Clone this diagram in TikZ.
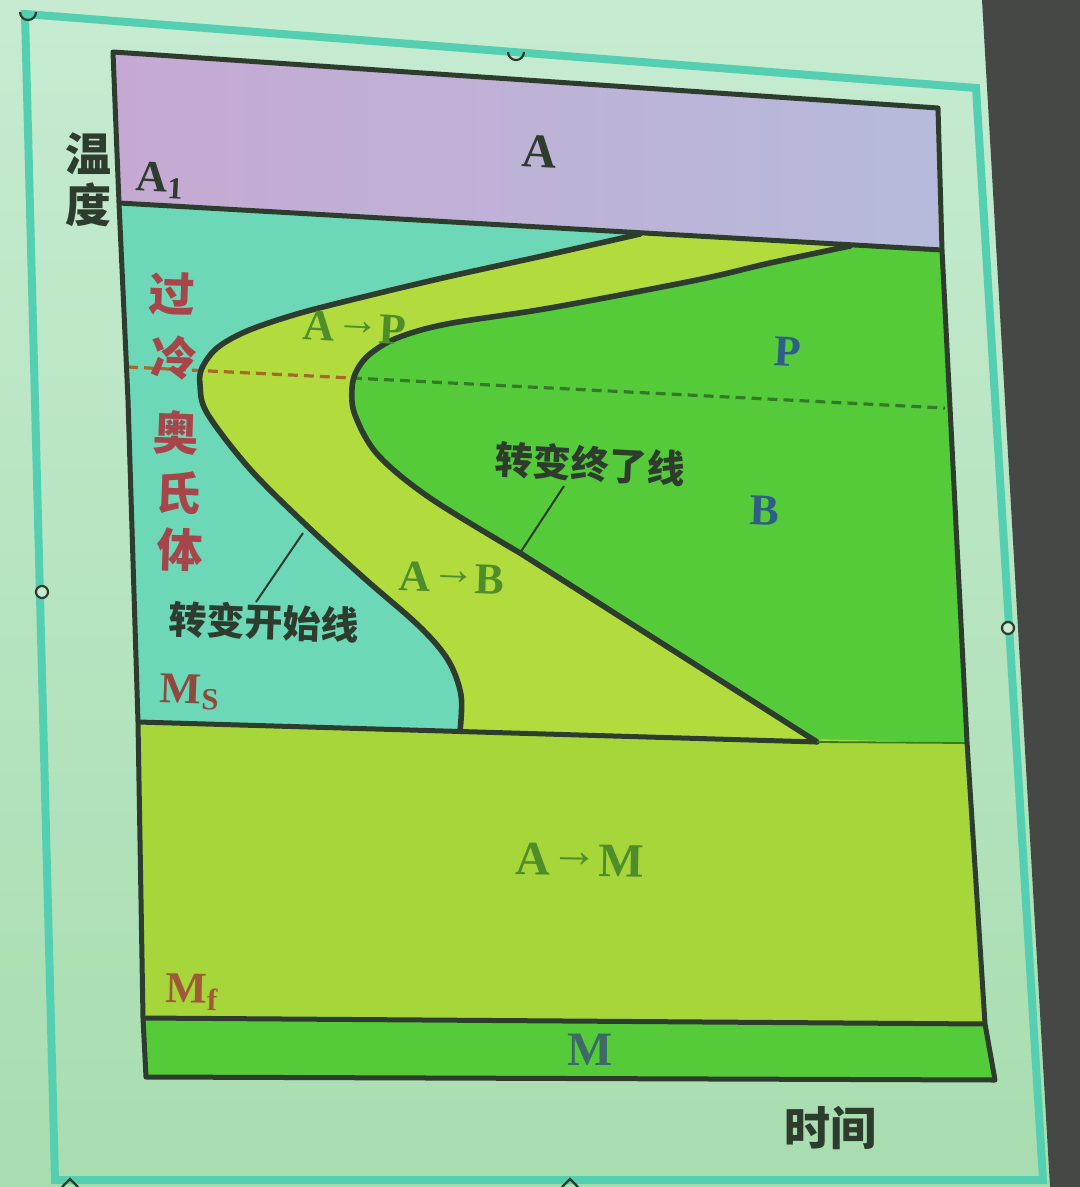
\documentclass[tikz,border=0pt]{standalone}
\usepackage{fontspec}
\setmainfont{Liberation Serif}
\newfontfamily\cjk{Noto Sans CJK SC}
\definecolor{bgtop}{HTML}{C6EBD1}
\definecolor{bgbot}{HTML}{A8DDB0}
\definecolor{darkside}{HTML}{454844}
\definecolor{tealline}{HTML}{55CFB2}
\definecolor{purL}{HTML}{C6A9D3}
\definecolor{purR}{HTML}{B6BBDB}
\definecolor{cyanreg}{HTML}{6CD8B8}
\definecolor{yel}{HTML}{B2DC3E}
\definecolor{yelM}{HTML}{A6D63A}
\definecolor{grn}{HTML}{55CB3A}
\definecolor{ink}{HTML}{2E3C2E}
\definecolor{redt}{HTML}{A8454A}
\definecolor{grnt}{HTML}{4E8E2A}
\definecolor{blut}{HTML}{2E5E88}
\definecolor{brn}{HTML}{A8682A}
\definecolor{dgr}{HTML}{357A28}
\definecolor{mst}{HTML}{8F4A40}
\definecolor{mft}{HTML}{A05A38}
\definecolor{mbt}{HTML}{3D6A66}
\newcommand\arw{\raisebox{0.18em}{→}}
\begin{document}
\begin{tikzpicture}[x=0.5pt,y=-0.5pt,
  frameline/.style={draw=ink,line width=2.5pt,line join=round},
  curveline/.style={draw=ink,line width=2.8pt,line cap=round,line join=round},
  leader/.style={draw=ink,line width=1pt},
  dashline/.style={line width=1.6pt,dash pattern=on 5pt off 3pt},
  lab/.style={font=\bfseries\fontsize{22}{22}\selectfont,inner sep=0pt},
  cj/.style={font=\cjk\bfseries\fontsize{23}{23}\selectfont,inner sep=0pt},
  cjs/.style={font=\cjk\bfseries\fontsize{19}{19}\selectfont,inner sep=0pt},
  handle/.style={draw=ink,line width=1.1pt,fill=bgtop}]
\useasboundingbox (0,0) rectangle (1080,1187);
% background
\shade[top color=bgtop,bottom color=bgbot] (0,0) rectangle (1080,1187);
\fill[darkside] (982,0) -- (1080,0) -- (1080,1187) -- (1050,1187) -- cycle;
% selection frame
\draw[tealline,line width=4pt] (25,14) -- (976,88) -- (1043,1180) -- (55,1180) -- cycle;
% purple band A
\shade[left color=purL,right color=purR] (113,52) -- (938,108) -- (942,250) -- (119,203) -- cycle;
% supercooled austenite region
\fill[cyanreg] (119,203) -- (942,250) -- (967,742) -- (138,722) -- (128,400) -- cycle;
% A->P / A->B band
\fill[yel] plot[smooth,tension=0.55] coordinates {(640,234) (547,255) (447,277) (363,297) (297,314) (247,331) (217,348) (202,368) (200,385) (207,413) (249,468) (304,523) (364,578) (419,626) (448,660) (461,695) (460,731)} -- (967,743) -- (942,250) -- cycle;
% P / B region
\fill[grn] plot[smooth,tension=0.55] coordinates {(850,246) (770,263) (697,280) (550,308) (447,324) (397,338) (370,354) (357,370) (352,388) (355,415) (378,455) (430,498) (520,553)} -- (817,742) -- (967,743) -- (942,250) -- cycle;
% A->M region
\fill[yelM] (138,722) -- (967,743) -- (985,1024) -- (143,1018) -- cycle;
% M band
\fill[grn] (143,1018) -- (985,1024) -- (995,1080) -- (146,1077) -- cycle;
% dashed line
\coordinate (dl) at (128,367);
\coordinate (dm) at (352,378);
\coordinate (dr) at (945,408);
\draw[dashline,brn] (dl) -- (dm);
\draw[dashline,dgr] (dm) -- (dr);
% curves
\draw[curveline] plot[smooth,tension=0.55] coordinates {(640,234) (547,255) (447,277) (363,297) (297,314) (247,331) (217,348) (202,368) (200,385) (207,413) (249,468) (304,523) (364,578) (419,626) (448,660) (461,695) (460,731)};
\draw[curveline] plot[smooth,tension=0.55] coordinates {(850,246) (770,263) (697,280) (550,308) (447,324) (397,338) (370,354) (357,370) (352,388) (355,415) (378,455) (430,498) (520,553)} -- (817,742);
% horizontal lines
\coordinate (aL) at (119,203);
\coordinate (aR) at (942,250);
\coordinate (msL) at (138,722);
\coordinate (msE) at (817,742);
\coordinate (msR) at (967,743);
\coordinate (mfL) at (143,1018);
\coordinate (mfR) at (985,1024);
\draw[frameline] (aL) -- (aR);
\draw[frameline] (msL) -- (msE);
\draw[draw=dgr,line width=0.9pt] (msE) -- (msR);
\draw[frameline] (mfL) -- (mfR);
% outer frame of the diagram
\draw[frameline] (113,52) -- (938,108) -- (942,250) -- (967,742) -- (985,1024) -- (995,1080) -- (146,1077) -- (143,1018) -- (138,722) -- (128,400) -- (119,203) -- cycle;
% leader lines
\coordinate (s1) at (303,533);
\coordinate (s2) at (256,602);
\coordinate (e1) at (520,553);
\coordinate (e2) at (564,486);
\draw[leader] (s1) -- (s2);
\draw[leader] (e1) -- (e2);
% texts
\node[cj,text=ink] (wen) at (88,154) {温};
\node[cj,text=ink] (du) at (88,205) {度};
\node[lab,text=ink,rotate=-3] (aone) at (160,180) {A\textsubscript{1}};
\node[lab,text=ink,font=\bfseries\fontsize{24}{24}\selectfont,rotate=-3] (alab) at (540,152) {A};
\node[cj,text=redt,rotate=-2] (c1) at (172,294) {过};
\node[cj,text=redt,rotate=-2] (c2) at (174,358) {冷};
\node[cj,text=redt,rotate=-2] (c3) at (176,433) {奥};
\node[cj,text=redt,rotate=-2] (c4) at (178,493) {氏};
\node[cj,text=redt,rotate=-2] (c5) at (180,550) {体};
\node[lab,text=grnt,rotate=-3] (ap) at (355,328) {A\arw P};
\node[lab,text=blut,rotate=-3] (plab) at (788,352) {P};
\node[cjs,text=ink,rotate=-3] (endl) at (590,464) {转变终了线};
\node[lab,text=blut,rotate=-2] (blab) at (765,511) {B};
\node[lab,text=grnt,rotate=-2] (ab) at (452,578) {A\arw B};
\node[cjs,text=ink,rotate=-2] (startl) at (264,622) {转变开始线};
\node[lab,text=mst,rotate=-2] (ms) at (190,692) {M\textsubscript{S}};
\node[lab,text=grnt,font=\bfseries\fontsize{24}{24}\selectfont,rotate=-1] (am) at (580,860) {A\arw M};
\node[lab,text=mft,rotate=-1] (mf) at (192,992) {M\textsubscript{f}};
\node[lab,text=mbt,font=\bfseries\fontsize{24}{24}\selectfont] (mlab) at (590,1050) {M};
\node[cj,text=ink] (shijian) at (830,1128) {时间};
% selection handles
\draw[handle] (42,592) circle (6);
\draw[handle] (1008,628) circle (6);
\draw[ink,line width=1.1pt] (20,12) arc (180:0:8);
\draw[ink,line width=1.1pt] (508,52) arc (180:0:8);
\draw[ink,line width=1.1pt] (62,1187) -- (70,1179) -- (78,1187);
\draw[ink,line width=1.1pt] (562,1187) -- (570,1179) -- (578,1187);
\end{tikzpicture}
\end{document}
